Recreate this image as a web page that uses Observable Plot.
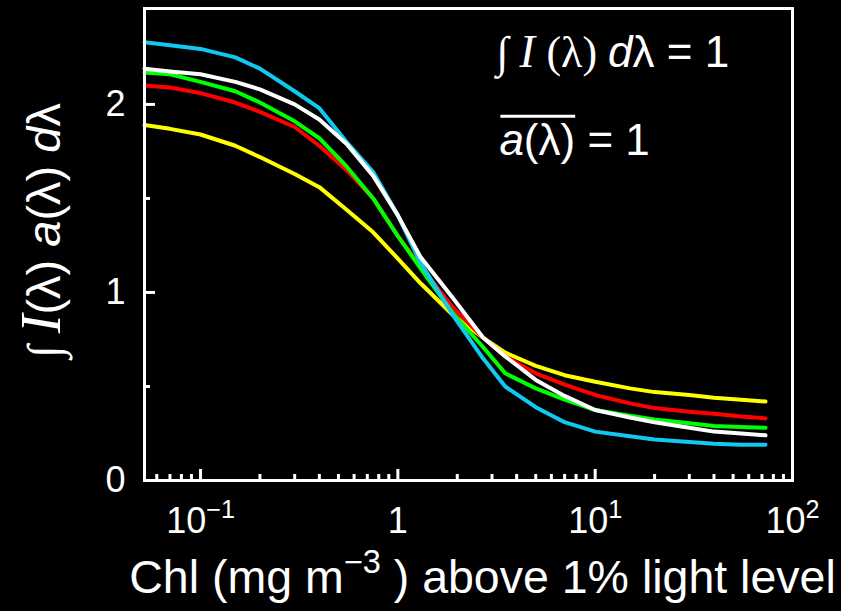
<!DOCTYPE html>
<html><head><meta charset="utf-8">
<script src="https://cdn.jsdelivr.net/npm/d3@7"></script>
<script src="https://cdn.jsdelivr.net/npm/@observablehq/plot@0.6"></script>
<style>
html,body{margin:0;padding:0;background:#000;}
#chart svg{display:block;}
</style></head><body><div id="chart"></div>
<script>
// Chl (mg m^-3) sample points
const chl = [0.052,0.07,0.1,0.15,0.2,0.3,0.4,0.55,0.75,1,1.3,1.9,2.7,3.5,5,7,10,15,20,30,40,55,73];
const yellowVals = [1.89,1.87,1.84,1.78,1.72,1.63,1.56,1.44,1.32,1.18,1.05,0.88,0.76,0.68,0.61,0.56,0.525,0.49,0.47,0.455,0.44,0.43,0.42];
const redVals    = [2.10,2.09,2.06,2.01,1.96,1.88,1.78,1.65,1.50,1.30,1.14,0.92,0.76,0.66,0.57,0.51,0.455,0.41,0.385,0.365,0.355,0.34,0.33];
const greenVals  = [2.17,2.16,2.12,2.07,2.01,1.91,1.82,1.67,1.50,1.30,1.13,0.89,0.71,0.57,0.49,0.43,0.375,0.345,0.325,0.305,0.29,0.285,0.28];
const cyanVals   = [2.33,2.315,2.295,2.25,2.19,2.07,1.98,1.80,1.64,1.41,1.16,0.88,0.65,0.50,0.39,0.31,0.26,0.235,0.218,0.205,0.195,0.19,0.19];
const whiteVals  = [2.19,2.175,2.16,2.12,2.08,2.00,1.92,1.79,1.62,1.41,1.19,0.97,0.76,0.66,0.535,0.45,0.375,0.335,0.31,0.28,0.26,0.25,0.24];

const seriesNames  = ["Yellow curve","Red curve","Green curve","Cyan curve","White curve"];
const seriesColors = ["#ffff00","#ff0000","#00ff00","#10c8f0","#ffffff"];
const seriesValues = [yellowVals, redVals, greenVals, cyanVals, whiteVals];

const xTickValues = [0.1, 1, 10, 100];
const xTickLabels = ["10^−1", "1", "10^1", "10^2"];
const xMinorTicks = [0.06,0.07,0.08,0.09,0.2,0.3,0.4,0.5,0.6,0.7,0.8,0.9,2,3,4,5,6,7,8,9,20,30,40,50,60,70,80,90];
const yTickValues = [0, 1, 2];
const yMinorTicks = [0.5, 1.5];

const xLabel = "Chl (mg m^−3 ) above 1% light level";
const yLabel = "∫ I(λ) a(λ) dλ";
const ann1 = "∫ I (λ) dλ = 1";
const ann2 = "a(λ) = 1";

const data = [];
seriesNames.forEach((name, k) => seriesValues[k].forEach((v, i) => data.push({chl: chl[i], value: v, series: name})));

const sans = "'Liberation Sans', Arial, Helvetica, sans-serif";
const serif = "'Liberation Serif', 'Times New Roman', serif";

const W = 841, H = 611, mL = 144, mR = 49, mT = 8, mB = 131;
const innerW = W - mL - mR, innerH = H - mT - mB;

const plot = Plot.plot({
  width: W, height: H,
  marginLeft: mL, marginRight: mR, marginTop: mT, marginBottom: mB,
  style: {background: "black", color: "white", fontFamily: sans},
  x: {type: "log", domain: [0.052, 100], axis: null},
  y: {domain: [0, 2.51], axis: null},
  color: {type: "ordinal", domain: seriesNames, range: seriesColors},
  marks: [
    Plot.line(data, {x: "chl", y: "value", z: "series", stroke: "series", strokeWidth: 4}),
    Plot.tickX(xTickValues, {x: d => d, stroke: "white", strokeWidth: 3, insetTop: innerH - 11}),
    Plot.tickX(xMinorTicks, {x: d => d, stroke: "white", strokeWidth: 3, insetTop: innerH - 6}),
    Plot.tickY(yTickValues, {y: d => d, stroke: "white", strokeWidth: 3, insetRight: innerW - 11}),
    Plot.tickY(yMinorTicks, {y: d => d, stroke: "white", strokeWidth: 3, insetRight: innerW - 6}),
    Plot.frame({stroke: "white", strokeWidth: 3}),
    Plot.text(xTickValues, {x: d => d, text: (d, i) => xTickLabels[i], frameAnchor: "bottom", dy: 27, lineAnchor: "top", fontSize: 36, fill: "white"}),
    Plot.text(yTickValues, {y: d => d, text: d => String(d), frameAnchor: "left", dx: -19, textAnchor: "end", fontSize: 36, fill: "white"}),
    Plot.text([xLabel], {text: d => d, frameAnchor: "bottom", textAnchor: "middle", dx: 14, dy: 112, lineAnchor: "bottom", fontSize: 46.5, fill: "white"}),
    Plot.text([yLabel], {text: d => d, frameAnchor: "left", textAnchor: "middle", dx: -85, dy: -14, rotate: -90, lineAnchor: "bottom", fontSize: 47, fill: "white"}),
    Plot.text([ann1], {x: () => 3.16, y: () => 2.197, text: d => d, textAnchor: "start", lineAnchor: "bottom", fontSize: 44, fill: "white"}),
    Plot.text([ann2], {x: () => 3.27, y: () => 1.729, text: d => d, textAnchor: "start", lineAnchor: "bottom", fontSize: 44, fill: "white"})
  ]
});
document.getElementById("chart").appendChild(plot);

// Rich-text formatting of labels (superscripts, italics, serif symbols)
const svgNS = "http://www.w3.org/2000/svg";
function setRich(el, parts) {
  while (el.firstChild) el.removeChild(el.firstChild);
  const base = parseFloat(el.getAttribute("font-size")) || parseFloat(getComputedStyle(el).fontSize);
  let shift = 0;
  parts.forEach(p => {
    const ts = document.createElementNS(svgNS, "tspan");
    ts.textContent = p.t;
    if (p.family) ts.setAttribute("font-family", p.family);
    if (p.italic) ts.setAttribute("font-style", "italic");
    if (p.scale) ts.setAttribute("font-size", base * p.scale);
    const target = p.sup ? -base * 0.42 : 0;
    if (target !== shift) { ts.setAttribute("dy", target - shift); shift = target; }
    if (p.sup) ts.setAttribute("font-size", base * 0.7);
    el.appendChild(ts);
  });
}
function splitSup(str) {
  const parts = [];
  const re = /\^([−\-]?\d+)/g;
  let last = 0, m;
  while ((m = re.exec(str))) {
    if (m.index > last) parts.push({t: str.slice(last, m.index)});
    parts.push({t: m[1], sup: true});
    last = re.lastIndex;
  }
  if (last < str.length) parts.push({t: str.slice(last)});
  return parts;
}
plot.querySelectorAll("text").forEach(el => {
  const s = el.textContent;
  if (s === yLabel) {
    setRich(el, [
      {t: "∫ ", family: serif}, {t: "I", family: serif, italic: true, scale: 1.2},
      {t: "(λ) "}, {t: "a", italic: true}, {t: "(λ) "}, {t: "d", italic: true}, {t: "λ"}
    ]);
  } else if (s === ann1) {
    setRich(el, [
      {t: "∫ ", family: serif}, {t: "I ", family: serif, italic: true, scale: 1.05},
      {t: "(λ) ", family: serif}, {t: "d", italic: true}, {t: "λ = 1"}
    ]);
  } else if (s === ann2) {
    setRich(el, [{t: "a", italic: true}, {t: "(λ)"}, {t: " = 1"}]);
    // overline over a(λ)
    const x0 = el.getStartPositionOfChar(0).x;
    const x1 = el.getEndPositionOfChar(3).x;
    const bb = el.getBBox();
    const line = document.createElementNS(svgNS, "line");
    line.setAttribute("x1", x0 + 1); line.setAttribute("x2", x1);
    const yy = bb.y + 1;
    line.setAttribute("y1", yy); line.setAttribute("y2", yy);
    line.setAttribute("stroke", "white"); line.setAttribute("stroke-width", 3);
    const tr = el.getAttribute("transform");
    if (tr) line.setAttribute("transform", tr);
    el.parentNode.appendChild(line);
  } else if (s.includes("^")) {
    setRich(el, splitSup(s));
  }
});
</script>
</body></html>
